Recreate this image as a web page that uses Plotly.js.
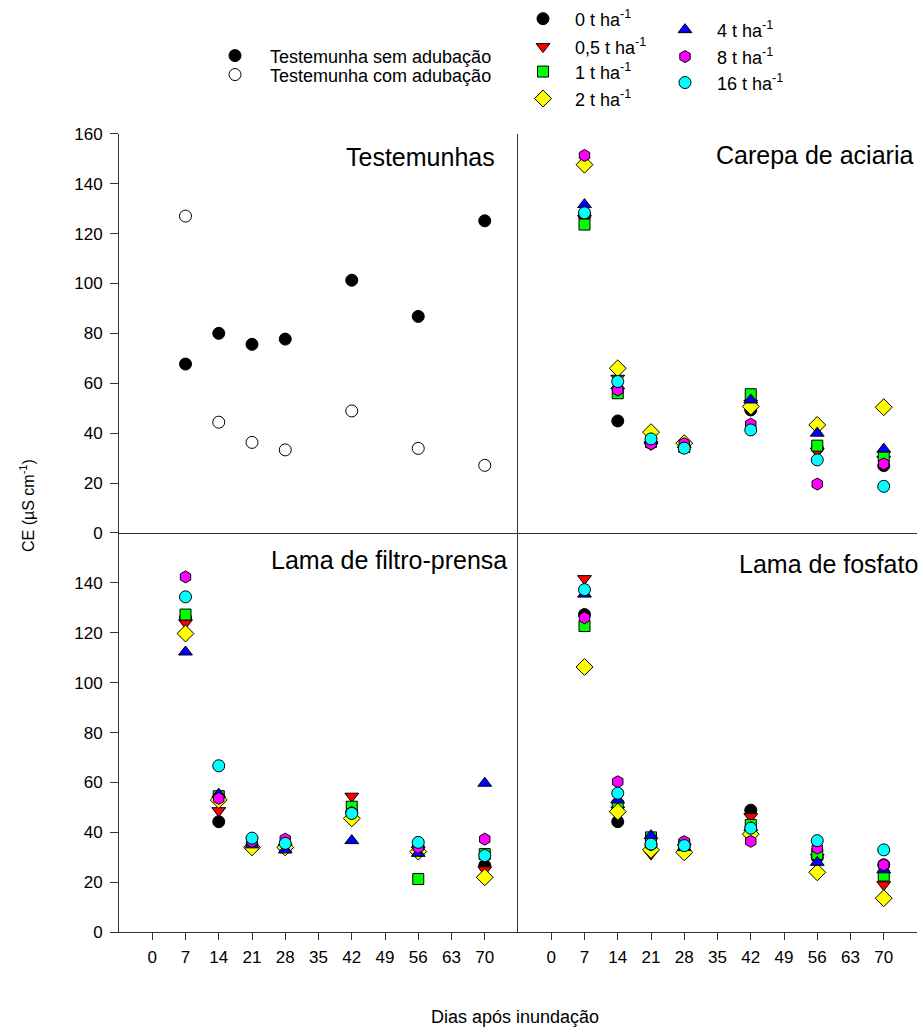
<!DOCTYPE html>
<html>
<head>
<meta charset="utf-8">
<script src="https://cdn.plot.ly/plotly-3.0.1.min.js"></script>
<style>html,body{margin:0;padding:0;background:#fff;}#chart{width:923px;height:1034px;}</style>
</head>
<body>
<div id="chart"></div>
<script>
// ---------- DATA ----------
const days = [7, 14, 21, 28, 42, 56, 70];
const xTickVals = [0, 7, 14, 21, 28, 35, 42, 49, 56, 63, 70];

// Testemunhas
const semAdubacao = [67.7, 80.0, 75.6, 77.7, 101.3, 86.8, 125.1];
const comAdubacao = [127.0, 44.4, 36.3, 33.3, 48.9, 33.9, 27.1];

// Carepa de aciaria
const carepa0   = [127.0, 44.9, 36.0, 35.5, 49.3, 34.0, 27.0];
const carepa05  = [126.0, 62.0, 35.5, 35.0, 52.0, 32.7, 29.5];
const carepa1   = [123.6, 56.0, 36.5, 34.5, 55.6, 35.0, 30.7];
const carepa2   = [147.6, 66.0, 40.4, 36.0, 50.7, 43.3, 50.4];
const carepa4   = [131.6, 59.0, 37.0, 35.5, 53.3, 40.0, 33.6];
const carepa8   = [151.3, 57.3, 35.7, 35.8, 43.6, 19.6, 27.7];
const carepa16  = [128.3, 60.7, 37.7, 34.0, 41.3, 29.3, 18.7];

// Lama de filtro-prensa
const filtro0   = [126.0, 44.3, 35.0, 34.0, 48.0, 34.0, 26.7];
const filtro05  = [124.0, 48.7, 33.3, 34.0, 54.5, 33.0, 25.0];
const filtro1   = [127.3, 54.5, 36.0, 34.0, 50.3, 21.3, 31.3];
const filtro2   = [119.7, 53.0, 34.0, 34.0, 45.6, 32.3, 22.0];
const filtro4   = [112.3, 55.3, 35.0, 33.0, 36.7, 31.6, 59.7];
const filtro8   = [142.4, 53.6, 36.4, 37.3, 48.0, 34.0, 37.3];
const filtro16  = [134.4, 66.7, 37.7, 35.6, 47.6, 36.0, 30.7];

// Lama de fosfato
const fosfato0  = [127.3, 44.3, 35.0, 35.0, 48.9, 30.0, 27.0];
const fosfato05 = [141.7, 49.0, 31.3, 34.0, 46.3, 30.0, 19.0];
const fosfato1  = [122.7, 50.7, 38.0, 35.0, 43.0, 31.3, 22.7];
const fosfato2  = [106.3, 48.3, 33.0, 32.0, 39.3, 24.0, 13.6];
const fosfato4  = [135.5, 53.0, 38.7, 34.0, 42.0, 28.0, 25.0];
const fosfato8  = [126.0, 60.3, 35.0, 36.3, 36.4, 33.7, 27.0];
const fosfato16 = [137.3, 55.7, 35.3, 34.7, 41.7, 36.7, 33.0];

const doseNames = ['0 t ha<sup>-1</sup>', '0,5 t ha<sup>-1</sup>', '1 t ha<sup>-1</sup>', '2 t ha<sup>-1</sup>',
                   '4 t ha<sup>-1</sup>', '8 t ha<sup>-1</sup>', '16 t ha<sup>-1</sup>'];
const panelTitles = ['Testemunhas', 'Carepa de aciaria', 'Lama de filtro-prensa', 'Lama de fosfato'];
const controlNames = ['Testemunha sem adubação', 'Testemunha com adubação'];

// ---------- STYLE ----------
const W = 923, H = 1034;
const FONT = 'Liberation Sans, Arial, Helvetica, sans-serif';
const doseStyles = [
  {symbol: 'circle', color: '#000000', size: 12},
  {symbol: 'triangle-down', color: '#ff0000', size: 12},
  {symbol: 'square', color: '#00ff00', size: 11},
  {symbol: 'diamond', color: '#ffff00', size: 13},
  {symbol: 'triangle-up', color: '#0000ff', size: 12},
  {symbol: 'hexagon', color: '#ff00ff', size: 12},
  {symbol: 'circle', color: '#00ffff', size: 12}
];
const px = v => v / W;
const py = v => (H - v) / H;

// legend item placement: marker centre (px) and gap marker->text (px)
const legendSpots = {
  c0: [235, 54, 35], c1: [235, 73, 35],
  d0: [543, 17, 32], d1: [543, 45, 32], d2: [543, 70, 32], d3: [543, 97, 32],
  d4: [685, 28, 32], d5: [685, 55, 32], d6: [685, 81, 32]
};

const traces = [];
// Testemunhas
traces.push({x: days, y: semAdubacao, type: 'scatter', mode: 'markers', xaxis: 'x', yaxis: 'y',
  name: controlNames[0], legend: 'legend', showlegend: true,
  marker: {symbol: 'circle', size: 12, color: '#000', line: {color: '#000', width: 1}}});
traces.push({x: days, y: comAdubacao, type: 'scatter', mode: 'markers', xaxis: 'x', yaxis: 'y',
  name: controlNames[1], legend: 'legend2', showlegend: true,
  marker: {symbol: 'circle', size: 12, color: '#fff', line: {color: '#000', width: 1}}});

const panels = [
  {ax: ['x2', 'y2'], series: [carepa0, carepa05, carepa1, carepa2, carepa4, carepa8, carepa16], legend: true},
  {ax: ['x3', 'y3'], series: [filtro0, filtro05, filtro1, filtro2, filtro4, filtro8, filtro16]},
  {ax: ['x4', 'y4'], series: [fosfato0, fosfato05, fosfato1, fosfato2, fosfato4, fosfato8, fosfato16]}
];
panels.forEach(p => {
  p.series.forEach((vals, i) => {
    const s = doseStyles[i];
    traces.push({x: days, y: vals, type: 'scatter', mode: 'markers', xaxis: p.ax[0], yaxis: p.ax[1],
      name: doseNames[i], showlegend: !!p.legend, legend: 'legend' + (i + 3),
      marker: {symbol: s.symbol, size: s.size, color: s.color, line: {color: '#000', width: 1}}});
  });
});

const lineCol = '#333333';
const tickFont = {family: FONT, size: 17, color: '#000'};
const xTop = {range: [-7, 77], showline: true, linecolor: lineCol, linewidth: 1, ticks: '', showticklabels: false,
  showgrid: false, zeroline: false, fixedrange: true};
const xBot = {range: [-7, 77], showline: true, linecolor: lineCol, linewidth: 1, ticks: 'outside', ticklen: 7,
  tickcolor: lineCol, tickvals: xTickVals, ticktext: xTickVals.map(String), tickfont: tickFont,
  ticklabelstandoff: 2, showgrid: false, zeroline: false, fixedrange: true};
const yLeft = (vals) => ({range: [0, 160], showline: true, linecolor: lineCol, linewidth: 1, ticks: 'outside',
  ticklen: 8, tickcolor: lineCol, tickvals: vals, ticktext: vals.map(String), tickfont: tickFont,
  ticklabelstandoff: 4, showgrid: false, zeroline: false, fixedrange: true});
const yRight = {range: [0, 160], showline: true, linecolor: lineCol, linewidth: 1, ticks: '', showticklabels: false,
  showgrid: false, zeroline: false, fixedrange: true};

const dxL = [px(119), px(518)], dxR = [px(518), px(917)];
const dyT = [py(532), py(132)], dyB = [py(932), py(532)];

const layout = {
  width: W, height: H, paper_bgcolor: '#fff', plot_bgcolor: 'rgba(0,0,0,0)', showlegend: true,
  margin: {l: 0, r: 0, t: 0, b: 0}, font: {family: FONT, color: '#000'},
  xaxis:  Object.assign({}, xTop, {domain: dxL, anchor: 'y'}),
  yaxis:  Object.assign({}, yLeft([0, 20, 40, 60, 80, 100, 120, 140, 160]), {domain: dyT, anchor: 'x'}),
  xaxis2: Object.assign({}, xTop, {domain: dxR, anchor: 'y2'}),
  yaxis2: Object.assign({}, yRight, {domain: dyT, anchor: 'x2'}),
  xaxis3: Object.assign({}, xBot, {domain: dxL, anchor: 'y3'}),
  yaxis3: Object.assign({}, yLeft([0, 20, 40, 60, 80, 100, 120, 140]), {domain: dyB, anchor: 'x3'}),
  xaxis4: Object.assign({}, xBot, {domain: dxR, anchor: 'y4'}),
  yaxis4: Object.assign({}, yRight, {domain: dyB, anchor: 'x4'}),
  annotations: [
    {text: panelTitles[0], xref: 'paper', yref: 'paper', x: px(497), y: py(155), xanchor: 'right', yanchor: 'middle', showarrow: false, font: {size: 25}},
    {text: panelTitles[1], xref: 'paper', yref: 'paper', x: px(915), y: py(153), xanchor: 'right', yanchor: 'middle', showarrow: false, font: {size: 25}},
    {text: panelTitles[2], xref: 'paper', yref: 'paper', x: px(509), y: py(559), xanchor: 'right', yanchor: 'middle', showarrow: false, font: {size: 25}},
    {text: panelTitles[3], xref: 'paper', yref: 'paper', x: px(920), y: py(563), xanchor: 'right', yanchor: 'middle', showarrow: false, font: {size: 25}},
    {text: 'CE (µS cm<sup>-1</sup>)', xref: 'paper', yref: 'paper', x: px(27), y: py(505), xanchor: 'center', yanchor: 'middle', textangle: -90, showarrow: false, font: {size: 16}},
    {text: 'Dias após inundação', xref: 'paper', yref: 'paper', x: px(515), y: py(1017), xanchor: 'center', yanchor: 'middle', showarrow: false, font: {size: 18}}
  ]
};

// legends: one per item so each can be placed where the reference puts it
const legendOrder = ['c0', 'c1', 'd0', 'd1', 'd2', 'd3', 'd4', 'd5', 'd6'];
legendOrder.forEach((k, i) => {
  const key = i === 0 ? 'legend' : 'legend' + (i + 1);
  const [mx, my, gap] = legendSpots[k];
  const iw = Math.max(30, (gap - 5) * 2);
  layout[key] = {x: px(mx - (iw / 2 + 5)), y: py(my), xanchor: 'left', yanchor: 'middle', bgcolor: 'rgba(0,0,0,0)',
    borderwidth: 0, font: {family: FONT, size: 18, color: '#000'}, itemwidth: iw, visible: true,
    itemclick: false, itemdoubleclick: false};
});

Plotly.newPlot('chart', traces, layout, {staticPlot: true, displayModeBar: false});
</script>
</body>
</html>
